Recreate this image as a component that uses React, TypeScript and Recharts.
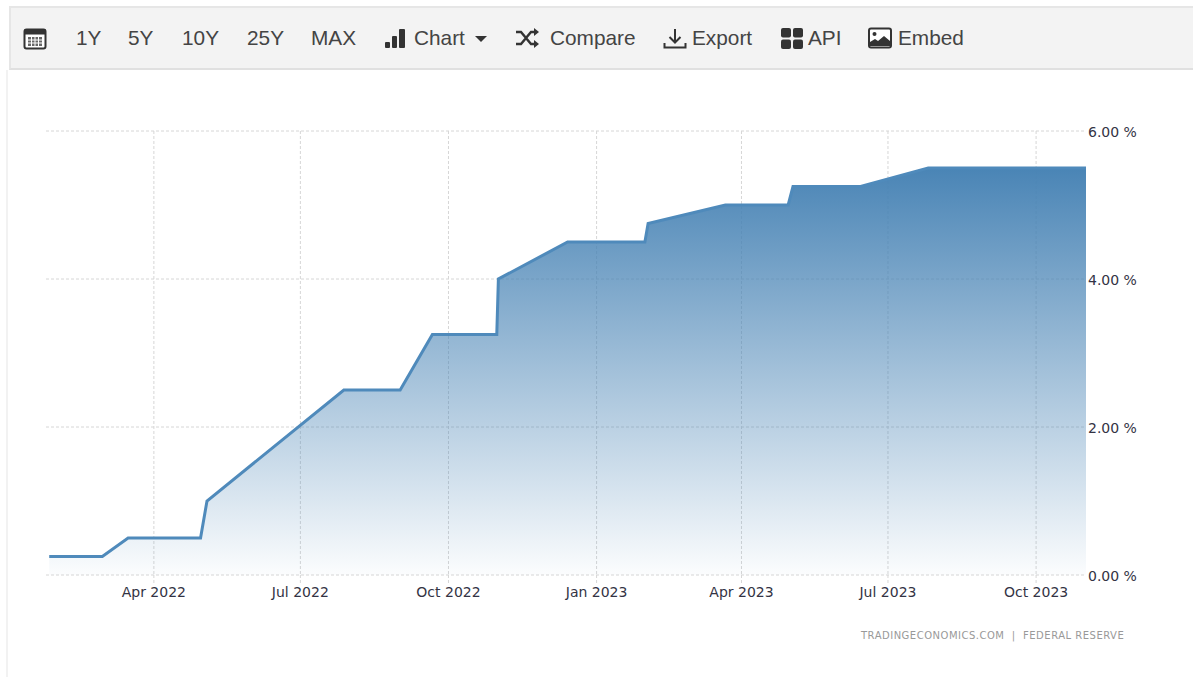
import { AreaChart, Area, XAxis, YAxis, CartesianGrid } from 'recharts';

const dates = [
  '2022-01-26', '2022-02-28', '2022-03-16', '2022-04-30', '2022-05-04', '2022-07-28',
  '2022-09-01', '2022-09-21', '2022-10-31', '2022-11-01', '2022-12-14', '2023-01-31',
  '2023-02-02', '2023-03-22', '2023-04-30', '2023-05-03', '2023-06-14', '2023-07-26',
  '2023-11-01',
];
const rates = [0.25, 0.25, 0.5, 0.5, 1, 2.5, 2.5, 3.25, 3.25, 4, 4.5, 4.5, 4.75, 5, 5, 5.25, 5.25, 5.5, 5.5];

const xTickDates = ['2022-04-01', '2022-07-01', '2022-10-01', '2023-01-01', '2023-04-01', '2023-07-01', '2023-10-01'];
const yTicks = [0, 2, 4, 6];
const months = ['Jan', 'Feb', 'Mar', 'Apr', 'May', 'Jun', 'Jul', 'Aug', 'Sep', 'Oct', 'Nov', 'Dec'];
const rangeButtons = [
  { label: '1Y', left: 76 },
  { label: '5Y', left: 128 },
  { label: '10Y', left: 182 },
  { label: '25Y', left: 247 },
  { label: 'MAX', left: 311 },
];

const toTime = (d: string) => Date.parse(d + 'T00:00:00Z');
const data = dates.map((d, i) => ({ time: toTime(d), rate: rates[i] }));
const xDomain = [toTime('2022-01-24'), toTime('2023-11-01')];

const formatDate = (t: number) => {
  const d = new Date(t);
  return `${months[d.getUTCMonth()]} ${d.getUTCFullYear()}`;
};

const toolbarText: React.CSSProperties = {
  position: 'absolute',
  top: 24,
  fontFamily: '"Liberation Sans", Arial, sans-serif',
  fontSize: 20.8,
  lineHeight: '28px',
  color: '#444',
  whiteSpace: 'nowrap',
};

function Icon({ left, top = 0, size = 24, children }: { left: number; top?: number; size?: number; children: React.ReactNode }) {
  return (
    <svg
      width={size}
      height={size}
      viewBox="0 0 24 24"
      style={{ position: 'absolute', left, top: 26 + top }}
    >
      {children}
    </svg>
  );
}

function Toolbar() {
  return (
    <div
      style={{
        position: 'absolute',
        left: 9,
        top: 6,
        width: 1184,
        height: 64,
        boxSizing: 'border-box',
        background: '#f3f3f3',
        borderTop: '2px solid #e6e6e6',
        borderLeft: '2px solid #e6e6e6',
        borderBottom: '2px solid #e0e0e0',
      }}
    >
      <div style={{ position: 'absolute', left: -11, top: -8, width: 1193, height: 70 }}>
        <Icon left={23} top={1}>
          <rect x="1.5" y="2.5" width="21" height="19" rx="2" fill="#fff" stroke="#333" strokeWidth="2" />
          <rect x="1.5" y="2.5" width="21" height="5" fill="#333" />
          <rect x="5" y="10" width="14" height="9" fill="#666" />
          <path d="M5 13h14M5 16h14M8.5 10v9M12 10v9M15.5 10v9" stroke="#fff" strokeWidth="1" />
        </Icon>
        {rangeButtons.map((b) => (
          <span key={b.label} style={{ ...toolbarText, left: b.left }}>{b.label}</span>
        ))}
        <Icon left={384}>
          <rect x="1" y="16" width="5" height="6" rx="1" fill="#333" />
          <rect x="8" y="10" width="5" height="12" rx="1" fill="#333" />
          <rect x="15" y="3" width="6" height="19" rx="1" fill="#333" />
        </Icon>
        <span style={{ ...toolbarText, left: 414 }}>Chart</span>
        <svg width="12" height="6" style={{ position: 'absolute', left: 475, top: 36 }}>
          <path d="M0 0h12l-6 6z" fill="#333" />
        </svg>
        <Icon left={515}>
          <path d="M1 6h5l10 12h4M1 18h5l10-12h4" fill="none" stroke="#333" strokeWidth="2.4" />
          <path d="M19 2l5 4-5 4zM19 14l5 4-5 4z" fill="#333" />
        </Icon>
        <span style={{ ...toolbarText, left: 550 }}>Compare</span>
        <Icon left={663}>
          <path d="M12 3v13M6.5 11l5.5 5.5 5.5-5.5" fill="none" stroke="#333" strokeWidth="2" />
          <path d="M1.5 17v4.5h21V17" fill="none" stroke="#333" strokeWidth="2" />
        </Icon>
        <span style={{ ...toolbarText, left: 692 }}>Export</span>
        <Icon left={780}>
          <rect x="1" y="2" width="10" height="9.5" rx="2" fill="#333" />
          <rect x="13" y="2" width="10" height="9.5" rx="2" fill="#333" />
          <rect x="1" y="13.5" width="10" height="9.5" rx="2" fill="#333" />
          <rect x="13" y="13.5" width="10" height="9.5" rx="2" fill="#333" />
        </Icon>
        <span style={{ ...toolbarText, left: 808 }}>API</span>
        <Icon left={868}>
          <rect x="1" y="2.5" width="22" height="19" rx="2" fill="#fff" stroke="#333" strokeWidth="2" />
          <circle cx="6.5" cy="8" r="2" fill="#333" />
          <path d="M2 20v-4l5-3 3 2 6-5 6 5v5z" fill="#333" />
        </Icon>
        <span style={{ ...toolbarText, left: 898 }}>Embed</span>
      </div>
    </div>
  );
}

const gridColor = '#d6d6d6';
const tickStyle = { fill: '#333344', fontSize: 14, fontFamily: '"DejaVu Sans", sans-serif' };

export default function App() {
  return (
    <div style={{ position: 'absolute', left: 0, top: 0, width: 1193, height: 677, background: '#fff', overflow: 'hidden' }}>
      <div style={{ position: 'absolute', left: 6, top: 70, width: 2, height: 607, background: '#f2f2f2' }} />
      <Toolbar />
      <div style={{ position: 'absolute', left: 0, top: 0 }}>
        <AreaChart width={1193} height={677} data={data} margin={{ top: 131, right: 7, bottom: 72, left: 46 }}>
          <defs>
            <linearGradient id="rateFill" x1="0" y1="0" x2="0" y2="1">
              <stop offset="0%" stopColor="#4682b4" stopOpacity={0.98} />
              <stop offset="100%" stopColor="#4682b4" stopOpacity={0.02} />
            </linearGradient>
          </defs>
          <CartesianGrid stroke={gridColor} strokeDasharray="3 2" syncWithTicks />
          <XAxis
            dataKey="time"
            type="number"
            scale="linear"
            domain={xDomain}
            ticks={xTickDates.map(toTime)}
            tickFormatter={formatDate}
            axisLine={false}
            tickLine={{ stroke: gridColor, strokeDasharray: '3 2' }}
            tickSize={8}
            tickMargin={4}
            height={30}
            tick={tickStyle}
            interval={0}
          />
          <YAxis
            orientation="right"
            domain={[0, 6]}
            ticks={yTicks}
            tickFormatter={(v: number) => `${v.toFixed(2)} %`}
            axisLine={false}
            tickLine={false}
            tickMargin={2}
            tickSize={0}
            width={100}
            tick={{ ...tickStyle, dy: 1 }}
            interval={0}
          />
          <Area
            type="linear"
            dataKey="rate"
            stroke="#4f8abb"
            strokeWidth={3}
            fill="url(#rateFill)"
            fillOpacity={1}
            dot={false}
            activeDot={false}
            isAnimationActive={false}
          />
        </AreaChart>
      </div>
      <div
        style={{
          position: 'absolute',
          left: 861,
          top: 629,
          fontFamily: '"DejaVu Sans", sans-serif',
          fontSize: 10,
          letterSpacing: 0.5,
          lineHeight: '14px',
          color: '#999',
          whiteSpace: 'pre',
        }}
      >
        TRADINGECONOMICS.COM  |  FEDERAL RESERVE
      </div>
    </div>
  );
}
